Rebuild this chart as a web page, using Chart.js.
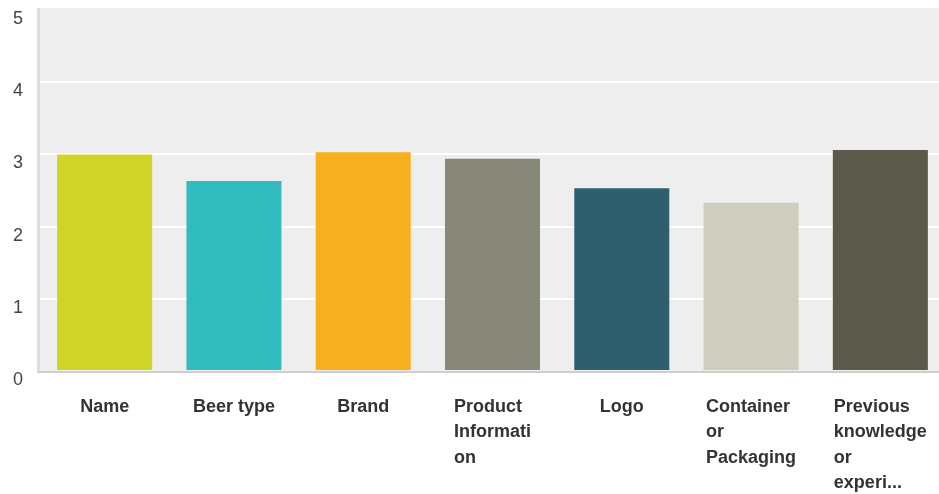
<!DOCTYPE html>
<html>
<head>
<meta charset="utf-8">
<script src="https://cdn.jsdelivr.net/npm/chart.js@4/dist/chart.umd.min.js"></script>
<style>
  html, body { margin: 0; padding: 0; background: #fff; overflow: hidden; }
  #wrap { width: 945px; height: 494px; position: relative; }
</style>
</head>
<body>
<div id="wrap"><canvas id="chart"></canvas></div>
<script>
// categories, wrapped the way they show under the bars
var categories = [
  ['Name'],
  ['Beer type'],
  ['Brand'],
  ['Product', 'Informati', 'on'],
  ['Logo'],
  ['Container', 'or', 'Packaging'],
  ['Previous', 'knowledge', 'or', 'experi...']
];
var averages = [3.0, 2.63, 3.03, 2.94, 2.53, 2.33, 3.06];
var barColors = ['#cfd428', '#33bcbe', '#f7ae1f', '#88887a', '#2d5f6d', '#cecdbe', '#5b5a4a'];
var yTicks = [0, 1, 2, 3, 4, 5];

var FONT = '"Liberation Sans", Arial, sans-serif';

// grey plot background, left strip and bottom rule, plus our own tick labels
var decor = {
  id: 'decor',
  beforeDraw: function (chart) {
    var ctx = chart.ctx, a = chart.chartArea;
    ctx.save();
    ctx.fillStyle = '#eeeeee';
    ctx.fillRect(a.left, a.top - 2, a.right - a.left, a.bottom - a.top + 3);
    ctx.fillStyle = '#dddddd';
    ctx.fillRect(a.left - 3, a.top - 2, 3, a.bottom - a.top + 3);
    ctx.restore();
  },
  afterDraw: function (chart) {
    var ctx = chart.ctx, a = chart.chartArea;
    var x = chart.scales.x, y = chart.scales.y;
    ctx.save();
    ctx.fillStyle = '#cfcfcf';
    ctx.fillRect(a.left - 3, a.bottom, a.right - a.left + 3, 2);

    // y labels sit a little under their grid line
    ctx.fillStyle = '#444';
    ctx.font = '18px ' + FONT;
    ctx.textAlign = 'center';
    ctx.textBaseline = 'middle';
    yTicks.forEach(function (v) {
      ctx.fillText(String(v), 18, y.getPixelForValue(v) + 9);
    });

    // x labels: block centred on the bar, lines left aligned inside it
    ctx.fillStyle = '#333';
    ctx.font = 'bold 18px ' + FONT;
    ctx.textAlign = 'left';
    categories.forEach(function (lines, i) {
      var cx = x.getPixelForValue(i);
      var w = Math.max.apply(null, lines.map(function (l) { return ctx.measureText(l).width; }));
      lines.forEach(function (l, k) {
        ctx.fillText(l, cx - w / 2, a.bottom + 36 + k * 25.3);
      });
    });
    ctx.restore();
  }
};

new Chart(document.getElementById('chart'), {
  type: 'bar',
  data: {
    labels: categories.map(function (c) { return c.join(' '); }),
    datasets: [{
      data: averages,
      backgroundColor: barColors,
      borderWidth: 0,
      barPercentage: 0.735,
      categoryPercentage: 1
    }]
  },
  options: {
    responsive: true,
    maintainAspectRatio: false,
    animation: false,
    layout: { padding: { left: 40, top: 10, right: 0, bottom: 123 } },
    plugins: { legend: { display: false }, tooltip: { enabled: false } },
    scales: {
      x: {
        ticks: { display: false },
        grid: { display: false, drawTicks: false },
        border: { display: false }
      },
      y: {
        min: 0,
        max: 5,
        afterBuildTicks: function (s) { s.ticks = yTicks.map(function (v) { return { value: v }; }); },
        ticks: { display: false },
        grid: {
          drawTicks: false,
          lineWidth: 2,
          color: function (c) {
            var v = c.tick && c.tick.value;
            return (v === 0 || v === 5) ? 'rgba(0,0,0,0)' : '#ffffff';
          }
        },
        border: { display: false }
      }
    }
  },
  plugins: [decor]
});
</script>
</body>
</html>
